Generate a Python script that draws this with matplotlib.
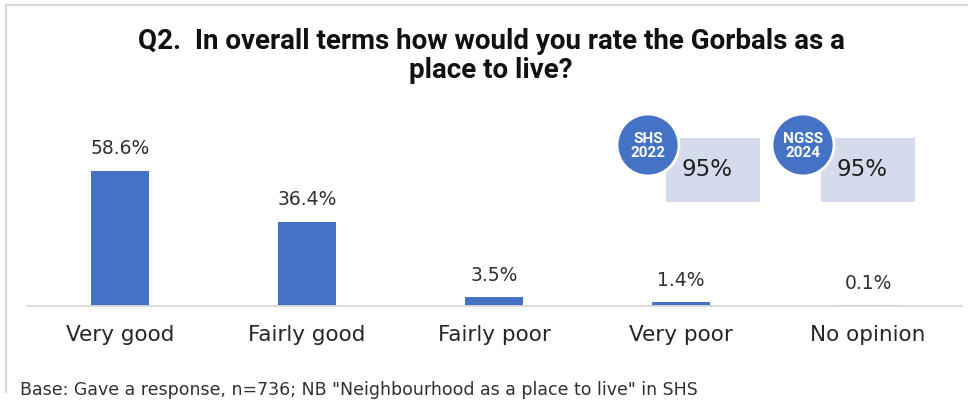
import matplotlib
matplotlib.use("Agg")
import matplotlib.pyplot as plt
from matplotlib import font_manager
from matplotlib.patches import Rectangle, Circle
from matplotlib.lines import Line2D

categories = ["Very good", "Fairly good", "Fairly poor", "Very poor", "No opinion"]
values = [58.6, 36.4, 3.5, 1.4, 0.1]
value_labels = ["58.6%", "36.4%", "3.5%", "1.4%", "0.1%"]

benchmarks = ["SHS\n2022", "NGSS\n2024"]
benchmark_values = ["95%", "95%"]

title = "Q2.  In overall terms how would you rate the Gorbals as a\nplace to live?"
footnote = 'Base: Gave a response, n=736; NB "Neighbourhood as a place to live" in SHS'

BAR = "#4472C4"
BOX = "#D5DAEC"
TEXT = "#303030"
GRID = "#D9D9D9"

installed = {f.name for f in font_manager.fontManager.ttflist}
narrow = "Liberation Sans Narrow" if "Liberation Sans Narrow" in installed else "Roboto"
plt.rcParams["font.family"] = ["DejaVu Sans"]

W, H = 968, 405
fig = plt.figure(figsize=(W / 100, H / 100), dpi=100)

# main bar axes, pixel layout converted to figure fractions
left, right, bottom_px, top_px = 26.5, 961.5, 305.5, 120
ax = fig.add_axes([left / W, (H - bottom_px) / H, (right - left) / W, (bottom_px - top_px) / H])
x = range(len(categories))
ax.bar(x, values, width=0.31, color=BAR, zorder=2)
ax.set_xlim(-0.5, len(categories) - 0.5)
ax.set_ylim(0, (bottom_px - top_px) / 2.3)
for i, (v, lab) in enumerate(zip(values, value_labels)):
    ax.annotate(lab, (i, v), xytext=(0, 9), textcoords="offset points",
                ha="center", va="bottom", fontsize=13.5, color=TEXT)
ax.set_xticks(list(x))
ax.set_xticklabels(categories, fontsize=15.5, color="#262626")
ax.tick_params(axis="x", length=0, pad=14)
ax.set_yticks([])
for s in ["top", "left", "right"]:
    ax.spines[s].set_visible(False)
ax.spines["bottom"].set_color(GRID)
ax.spines["bottom"].set_linewidth(1.3)

# overlay in pixel coordinates for frame, title, callouts and footnote
ov = fig.add_axes([0, 0, 1, 1], zorder=5)
ov.set_xlim(0, W)
ov.set_ylim(H, 0)
ov.axis("off")
ov.patch.set_alpha(0)

ov.add_line(Line2D([6, W], [5, 5], color=GRID, lw=1.6))
ov.add_line(Line2D([6, 6], [5, 392], color=GRID, lw=1.6))

ov.text(491, 56, title, ha="center", va="center", fontsize=20,
        fontweight="bold", family=[narrow, "DejaVu Sans"], color="#111111",
        linespacing=1.05)

box_x = [666, 821]
for bx, name, val in zip(box_x, benchmarks, benchmark_values):
    ov.add_patch(Rectangle((bx, 138), 94, 64, facecolor=BOX, edgecolor="none"))
    ov.text(bx + 41, 169, val, ha="center", va="center", fontsize=16.5, color="#202020")
    cx, cy = bx - 18, 145
    ov.add_patch(Circle((cx, cy), 31, facecolor=BAR, edgecolor="white", lw=2))
    ov.text(cx, cy + 1, name, ha="center", va="center", fontsize=11,
            fontweight="bold", color="white", family=[narrow, "DejaVu Sans"],
            linespacing=1.05)

ov.text(20, 390, footnote, ha="left", va="center", fontsize=12.5, color=TEXT)

fig.savefig("out.png", dpi=100, facecolor="white")
